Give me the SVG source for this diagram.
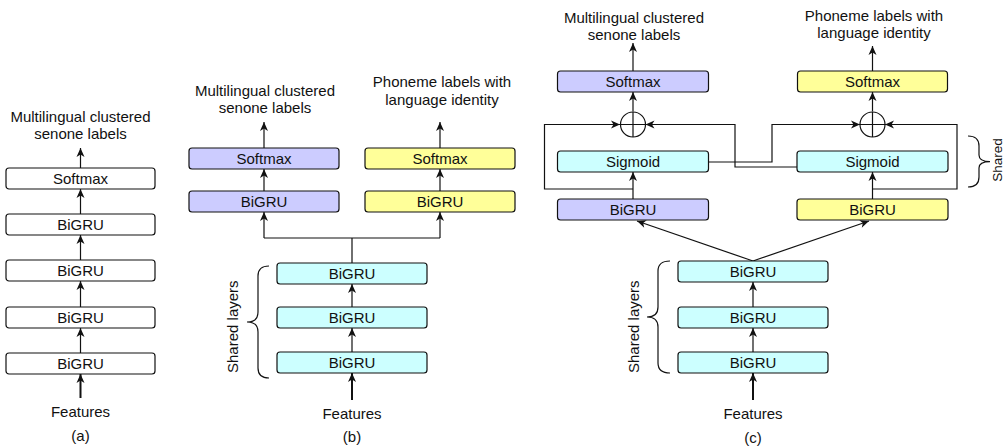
<svg xmlns="http://www.w3.org/2000/svg" width="1003" height="448" viewBox="0 0 1003 448">
<style>
text{font-family:"Liberation Sans",Arial,Helvetica,sans-serif;font-size:15px;fill:#111;text-anchor:middle}
.box{stroke:#111;stroke-width:1.2}
.w{fill:#ffffff}.p{fill:#ccccff}.y{fill:#ffff99}.c{fill:#ccffff}
.ln{fill:none;stroke:#111;stroke-width:1.2}
.ar{fill:none;stroke:#111;stroke-width:1.2;marker-end:url(#ah)}
.af{fill:none;stroke:#111;stroke-width:2;marker-end:url(#ah)}
</style>
<defs>
<marker id="ah" markerUnits="userSpaceOnUse" markerWidth="10" markerHeight="9" refX="9" refY="4" orient="auto" overflow="visible">
<path d="M0,0 L9,4 L0,8 L2.5,4 Z" fill="#111"/>
</marker>
</defs>

<g id="connectors">
<!-- panel a -->
<path class="ar" d="M80.5,168 V148"/>
<path class="ar" d="M80.5,214 V189"/>
<path class="ar" d="M80.5,260 V235"/>
<path class="ar" d="M80.5,307 V281"/>
<path class="ar" d="M80.5,353 V328"/>
<path class="af" d="M80.5,398 V374"/>
<!-- panel b -->
<path class="ar" d="M264,148 V122"/>
<path class="ar" d="M440,148 V122"/>
<path class="ar" d="M264,191 V169"/>
<path class="ar" d="M440,191 V169"/>
<path class="ln" d="M352,263 V238 M264,238 H440"/>
<path class="ar" d="M264,238 V212"/>
<path class="ar" d="M440,238 V212"/>
<path class="ar" d="M352,307 V284"/>
<path class="ar" d="M352,352 V328"/>
<path class="af" d="M352,400 V373"/>
<path class="ln" d="M269,266 Q258,266 258,276 V312 Q258,322 247,322 Q258,322 258,332 V368 Q258,378 269,378"/>
<!-- panel c -->
<path class="ar" d="M633,199 V172"/>
<path class="ar" d="M872.5,199 V172"/>
<path class="ar" d="M633,111.5 V92"/>
<path class="ar" d="M872.5,111.5 V92"/>
<path class="ar" d="M633,71 V43"/>
<path class="ar" d="M872.5,71 V46"/>
<path class="ar" d="M633,189 H544.5 V124.5 H620"/>
<path class="ar" d="M872.5,189 H957 V124.5 H885"/>
<path class="ar" d="M709,162 H772 V124.5 H860"/>
<path class="ar" d="M797,167 H735 V124.5 H645.5"/>
<path class="ar" d="M753,261 L637,221"/>
<path class="ar" d="M753,261 L869,221"/>
<path class="ar" d="M753,307 V282"/>
<path class="ar" d="M753,352 V328"/>
<path class="af" d="M753,400 V373"/>
<path class="ln" d="M670,261 Q658,261 658,271 V307 Q658,317 647,317 Q658,317 658,327 V363 Q658,373 670,373"/>
<path class="ln" d="M968,136 Q979,136 979,146 V155 Q979,161.7 990,161.7 Q979,161.7 979,168 V177 Q979,187 968,187"/>
</g>

<g id="panel-a">
<text x="80.5" y="122">Multilingual clustered</text>
<text x="80.5" y="139">senone labels</text>
<g id="a-softmax"><rect class="box w" x="6" y="168" width="149" height="21" rx="3"/><text x="80.5" y="184">Softmax</text></g>
<g id="a-bigru1"><rect class="box w" x="6" y="214" width="149" height="21" rx="3"/><text x="80.5" y="230">BiGRU</text></g>
<g id="a-bigru2"><rect class="box w" x="6" y="260" width="149" height="21" rx="3"/><text x="80.5" y="276">BiGRU</text></g>
<g id="a-bigru3"><rect class="box w" x="6" y="307" width="149" height="21" rx="3"/><text x="80.5" y="323">BiGRU</text></g>
<g id="a-bigru4"><rect class="box w" x="6" y="353" width="149" height="21" rx="3"/><text x="80.5" y="369">BiGRU</text></g>
<text x="80.5" y="417">Features</text>
<text x="80.5" y="441">(a)</text>
</g>

<g id="panel-b">
<text x="265" y="96">Multilingual clustered</text>
<text x="265" y="113">senone labels</text>
<text x="442" y="87">Phoneme labels with</text>
<text x="442" y="105">language identity</text>
<g id="b-softmax-l"><rect class="box p" x="189" y="148" width="150" height="21" rx="3"/><text x="264" y="164">Softmax</text></g>
<g id="b-bigru-l"><rect class="box p" x="189" y="191" width="150" height="21" rx="3"/><text x="264" y="207">BiGRU</text></g>
<g id="b-softmax-r"><rect class="box y" x="365" y="148" width="150" height="21" rx="3"/><text x="440" y="164">Softmax</text></g>
<g id="b-bigru-r"><rect class="box y" x="365" y="191" width="150" height="21" rx="3"/><text x="440" y="207">BiGRU</text></g>
<g id="b-shared1"><rect class="box c" x="277" y="263" width="150" height="21" rx="3"/><text x="352" y="279">BiGRU</text></g>
<g id="b-shared2"><rect class="box c" x="277" y="307" width="150" height="21" rx="3"/><text x="352" y="323">BiGRU</text></g>
<g id="b-shared3"><rect class="box c" x="277" y="352" width="150" height="21" rx="3"/><text x="352" y="368">BiGRU</text></g>
<text transform="translate(238,326.7) rotate(-90)">Shared layers</text>
<text x="352" y="419">Features</text>
<text x="352" y="442">(b)</text>
</g>

<g id="panel-c">
<text x="634" y="23">Multilingual clustered</text>
<text x="634" y="40">senone labels</text>
<text x="874" y="21">Phoneme labels with</text>
<text x="874" y="38">language identity</text>
<g id="c-softmax-l"><rect class="box p" x="557.5" y="71" width="151" height="21" rx="3"/><text x="633" y="87">Softmax</text></g>
<g id="c-softmax-r"><rect class="box y" x="797.5" y="71" width="150" height="21" rx="3"/><text x="872.5" y="87">Softmax</text></g>
<g id="c-sum-l"><circle cx="633" cy="124.5" r="12.5" fill="none" stroke="#111" stroke-width="1.2"/><path class="ln" d="M620.5,124.5 H645.5 M633,112 V137"/></g>
<g id="c-sum-r"><circle cx="872.5" cy="124.5" r="12.5" fill="none" stroke="#111" stroke-width="1.2"/><path class="ln" d="M860,124.5 H885 M872.5,112 V137"/></g>
<g id="c-sigmoid-l"><rect class="box c" x="557.5" y="151" width="151" height="21" rx="3"/><text x="633" y="167">Sigmoid</text></g>
<g id="c-sigmoid-r"><rect class="box c" x="797" y="151" width="151" height="21" rx="3"/><text x="872.5" y="167">Sigmoid</text></g>
<g id="c-bigru-l"><rect class="box p" x="557.5" y="199" width="151" height="21" rx="3"/><text x="633" y="215">BiGRU</text></g>
<g id="c-bigru-r"><rect class="box y" x="797" y="199" width="151" height="21" rx="3"/><text x="872.5" y="215">BiGRU</text></g>
<g id="c-shared1"><rect class="box c" x="678" y="261" width="150" height="21" rx="3"/><text x="753" y="277">BiGRU</text></g>
<g id="c-shared2"><rect class="box c" x="678" y="307" width="150" height="21" rx="3"/><text x="753" y="323">BiGRU</text></g>
<g id="c-shared3"><rect class="box c" x="678" y="352" width="150" height="21" rx="3"/><text x="753" y="368">BiGRU</text></g>
<text transform="translate(639,326.7) rotate(-90)">Shared layers</text>
<text transform="translate(1002,160) rotate(-90)" style="font-size:13.5px">Shared</text>
<text x="753" y="419">Features</text>
<text x="753" y="443">(c)</text>
</g>
</svg>
